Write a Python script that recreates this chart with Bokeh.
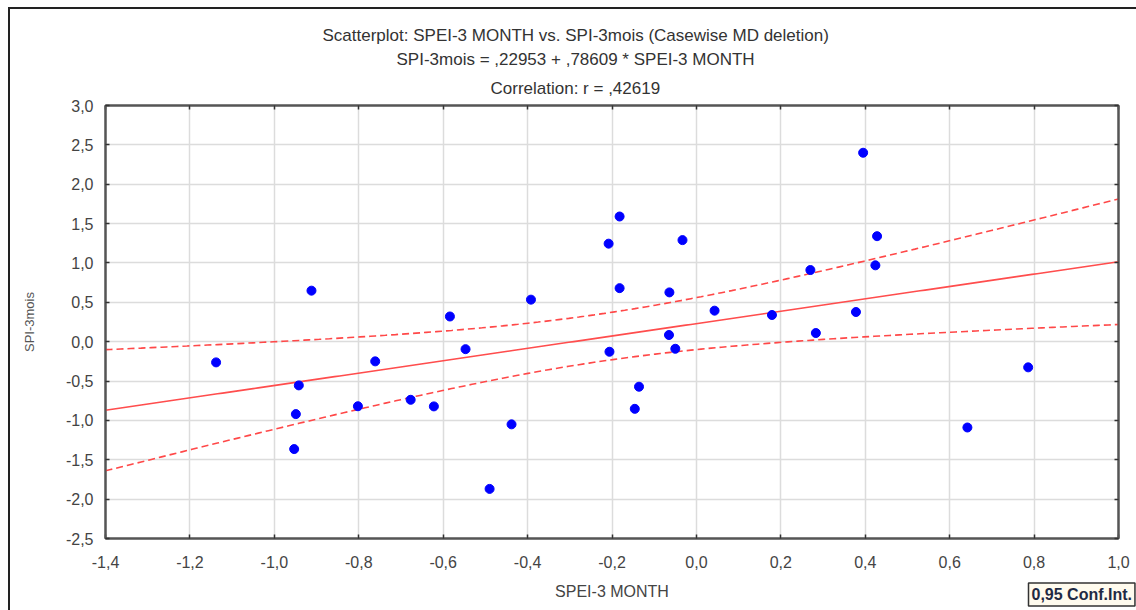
import math
import numpy as np
from bokeh.plotting import figure
from bokeh.models import (Range1d, FixedTicker, CustomJSTickFormatter, LinearAxis, Label,
                          Title, ColumnDataSource)
from bokeh.embed import file_html
from bokeh.resources import INLINE

# ---------------- data ----------------
spei3 = [0.395, -0.182, -0.208, -0.033, 0.428, 0.424, 0.270, -0.182, -0.064, 0.043,
         0.179, 0.378, 0.283, -0.065, -0.206, -0.050, -0.136, -0.146, 0.642, 0.786,
         -0.912, -0.392, -0.584, -0.547, -1.138, -0.761, -0.942, -0.949, -0.802, -0.677,
         -0.622, -0.438, -0.953, -0.490]
spi3 = [2.40, 1.59, 1.245, 1.29, 1.34, 0.97, 0.91, 0.68, 0.626, 0.394,
        0.339, 0.377, 0.11, 0.085, -0.128, -0.09, -0.572, -0.853, -1.09, -0.326,
        0.648, 0.534, 0.32, -0.095, -0.263, -0.25, -0.555, -0.92, -0.82, -0.738,
        -0.822, -1.05, -1.364, -1.87]

INTERCEPT = 0.22953
SLOPE = 0.78609
T95 = 2.0369  # Student t, 0.975, df = n - 2

x_ticks = [-1.4, -1.2, -1.0, -0.8, -0.6, -0.4, -0.2, 0.0, 0.2, 0.4, 0.6, 0.8, 1.0]
y_ticks = [-2.5, -2.0, -1.5, -1.0, -0.5, 0.0, 0.5, 1.0, 1.5, 2.0, 2.5, 3.0]

title_lines = ["Scatterplot: SPEI-3 MONTH vs. SPI-3mois (Casewise MD deletion)",
               "SPI-3mois = ,22953 + ,78609 * SPEI-3 MONTH",
               "Correlation: r = ,42619"]
x_title = "SPEI-3 MONTH"
y_title = "SPI-3mois"
legend_text = "0,95 Conf.Int."

# ---------------- regression & confidence band ----------------
xa = np.array(spei3)
ya = np.array(spi3)
n = len(xa)
xbar = xa.mean()
sxx = ((xa - xbar) ** 2).sum()
resid = ya - (INTERCEPT + SLOPE * xa)
s = math.sqrt((resid ** 2).sum() / (n - 2))
xs = np.linspace(x_ticks[0], x_ticks[-1], 200)
fit = INTERCEPT + SLOPE * xs
half = T95 * s * np.sqrt(1.0 / n + (xs - xbar) ** 2 / sxx)

# ---------------- figure ----------------
FONT = "Liberation Sans"
FW, FH = 1013, 433

p = figure(frame_width=FW, frame_height=FH, min_border_left=95, min_border_top=96,
           min_border_right=34, min_border_bottom=66,
           x_range=Range1d(x_ticks[0], x_ticks[-1]), y_range=Range1d(y_ticks[0], y_ticks[-1]),
           output_backend="svg", toolbar_location=None, tools="",
           background_fill_color="white", border_fill_color="white")
p.styles = {"margin-left": "8px", "margin-top": "7px",
            "border-left": "2px solid #222222", "border-top": "2px solid #222222",
            "border-right": "0px none transparent", "border-bottom": "0px none transparent"}

fmt = CustomJSTickFormatter(code="""
const v = Math.abs(tick) < 1e-9 ? 0 : tick;
return v.toFixed(1).replace('.', ',');
""")
blank = CustomJSTickFormatter(code="return '';")

for ax, ticks in ((p.xaxis[0], x_ticks), (p.yaxis[0], y_ticks)):
    ax.ticker = FixedTicker(ticks=ticks)
    ax.formatter = fmt
    ax.major_label_text_font = FONT
    ax.major_label_text_font_size = "16px"
    ax.major_label_text_color = "#444444"
    ax.axis_line_color = "#555555"
    ax.axis_line_width = 2
    ax.major_tick_in = 4
    ax.major_tick_out = 0
    ax.major_tick_line_color = "#333333"
    ax.major_tick_line_width = 1.5
    ax.minor_tick_line_color = None
    ax.axis_label_text_font = FONT
    ax.axis_label_text_font_style = "normal"
p.xaxis[0].major_label_standoff = 17
p.xaxis[0].axis_label = x_title
p.xaxis[0].axis_label_text_font_size = "16px"
p.xaxis[0].axis_label_text_color = "#444444"
p.xaxis[0].axis_label_standoff = 12
p.yaxis[0].major_label_standoff = 12
p.yaxis[0].axis_label = y_title
p.yaxis[0].axis_label_text_font_size = "13px"
p.yaxis[0].axis_label_text_color = "#555555"
p.yaxis[0].axis_label_standoff = 26

for side, ticks in (("above", x_ticks), ("right", y_ticks)):
    ax = LinearAxis(ticker=FixedTicker(ticks=ticks), formatter=blank,
                    major_label_text_color=None, major_label_text_font_size="1px",
                    major_label_standoff=0, axis_line_color="#555555", axis_line_width=2,
                    major_tick_in=4, major_tick_out=0, major_tick_line_color="#333333",
                    major_tick_line_width=1.5, minor_tick_line_color=None)
    p.add_layout(ax, side)

# title lines (outermost first), added innermost first
title_offsets = [217, 291, 385]
title_standoffs = [6, 0, 16]
for t, off, so in reversed(list(zip(title_lines, title_offsets, title_standoffs))):
    p.add_layout(Title(text=t, align="left", offset=off, text_font=FONT,
                       text_font_size="17px", text_font_style="normal",
                       text_color="#333333", standoff=so), "above")

p.xgrid.ticker = FixedTicker(ticks=x_ticks)
p.ygrid.ticker = FixedTicker(ticks=y_ticks)
p.grid.grid_line_color = "#dcdcdc"
p.grid.grid_line_width = 1.5
p.outline_line_color = "#555555"
p.outline_line_width = 2

band = ColumnDataSource(dict(x=xs, fit=fit, lo=fit - half, hi=fit + half))
p.line("x", "hi", source=band, line_color="#ff4848", line_width=1.6, line_dash="7 4")
p.line("x", "lo", source=band, line_color="#ff4848", line_width=1.6, line_dash="7 4")
p.line("x", "fit", source=band, line_color="#ff4d4d", line_width=1.6)

pts = ColumnDataSource(dict(x=spei3, y=spi3))
p.scatter("x", "y", source=pts, size=9, fill_color="#0000ff", line_color="#0000ff")

# legend box, in its own panel under the x axis, pulled up beside the axis title
p.add_layout(Label(x=923, y=31, x_units="screen", y_units="screen", text=legend_text,
                   text_font=FONT, text_font_size="16px", text_font_style="bold",
                   text_color="#1f2a44", text_align="left", text_baseline="middle",
                   background_fill_color="#fffbee", border_line_color="#333333",
                   border_line_width=1.5, padding=3), "below")

open("out.html", "w").write(file_html(p, INLINE))
